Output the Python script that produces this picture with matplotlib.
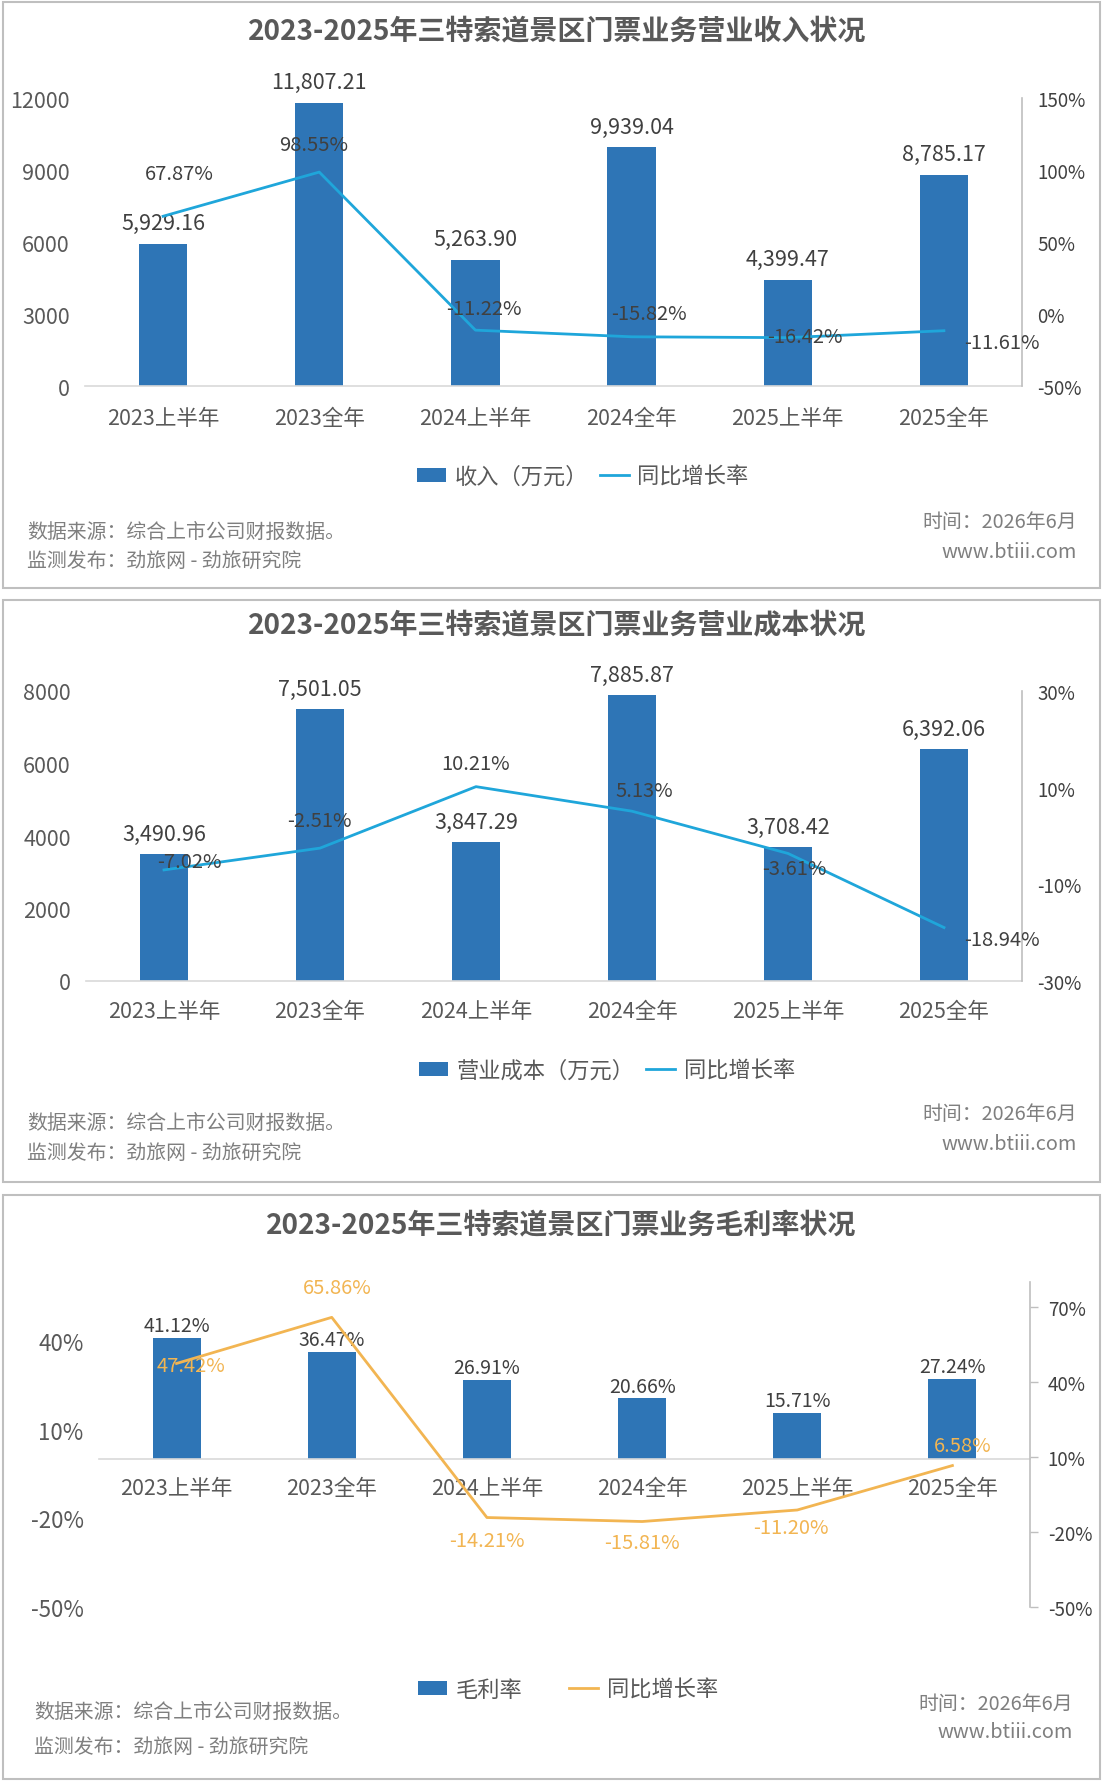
import matplotlib
matplotlib.use("Agg")
import matplotlib.pyplot as plt
from matplotlib.patches import Rectangle, Patch
from matplotlib.lines import Line2D
from matplotlib.ticker import FixedLocator, FuncFormatter

plt.rcParams['font.family'] = ['Noto Sans CJK SC', 'DejaVu Sans']
plt.rcParams['axes.unicode_minus'] = False

# ---------------- data ----------------
categories = ['2023上半年', '2023全年', '2024上半年', '2024全年', '2025上半年', '2025全年']
revenue = [5929.16, 11807.21, 5263.90, 9939.04, 4399.47, 8785.17]
revenue_yoy = [67.87, 98.55, -11.22, -15.82, -16.42, -11.61]
cost = [3490.96, 7501.05, 3847.29, 7885.87, 3708.42, 6392.06]
cost_yoy = [-7.02, -2.51, 10.21, 5.13, -3.61, -18.94]
margin = [41.12, 36.47, 26.91, 20.66, 15.71, 27.24]
margin_yoy = [47.42, 65.86, -14.21, -15.81, -11.20, 6.58]

rev_left_ticks = [0, 3000, 6000, 9000, 12000]
rev_right_ticks = [-50, 0, 50, 100, 150]
cost_left_ticks = [0, 2000, 4000, 6000, 8000]
cost_right_ticks = [-30, -10, 10, 30]
mar_left_ticks = [-50, -20, 10, 40]
mar_right_ticks = [-50, -20, 10, 40, 70]

titles = ['2023-2025年三特索道景区门票业务营业收入状况',
          '2023-2025年三特索道景区门票业务营业成本状况',
          '2023-2025年三特索道景区门票业务毛利率状况']
bar_names = ['收入（万元）', '营业成本（万元）', '毛利率']
line_name = '同比增长率'
source_txt = '数据来源：综合上市公司财报数据。'
publish_txt = '监测发布：劲旅网 - 劲旅研究院'
time_txt = '时间：2026年6月'
site_txt = 'www.btiii.com'

# ---------------- style ----------------
W, H = 1107, 1783
BAR = '#2E75B6'
BLUE_LINE = '#1FA6DA'
ORANGE = '#F2B552'
TXT = '#404040'
TICK = '#595959'
FOOT = '#7F7F7F'

fig = plt.figure(figsize=(W / 100, H / 100), dpi=100)


def fx(px):
    return px / W


def fy(py):
    return 1 - py / H


def add_axes(l, r, t, b):
    return fig.add_axes([fx(l), fy(b), (r - l) / W, (b - t) / H])


def frame(top, bottom):
    fig.patches.append(Rectangle((fx(3), fy(bottom)), fx(1100) - fx(3), fy(top) - fy(bottom),
                                 transform=fig.transFigure, fill=False,
                                 edgecolor='#BFBFBF', lw=1.5))


def style_axes(ax, ax2, right_tick_len=0, xpad=15):
    for s in ['top', 'left', 'right']:
        ax.spines[s].set_visible(False)
    ax.spines['bottom'].set_color('#D9D9D9')
    ax.spines['bottom'].set_linewidth(1.2)
    for s in ['top', 'left', 'bottom']:
        ax2.spines[s].set_visible(False)
    ax2.spines['right'].set_color('#BFBFBF')
    ax2.spines['right'].set_linewidth(1.2)
    ax.tick_params(axis='y', length=0, pad=11, labelsize=15.5, labelcolor=TICK)
    ax.tick_params(axis='x', length=0, pad=xpad, labelsize=15.5, labelcolor=TICK)
    ax2.tick_params(axis='y', length=right_tick_len, width=1, color='#BFBFBF',
                    pad=11 - right_tick_len * 0.7, labelsize=13.5, labelcolor=TXT)
    ax.set_xlim(-0.5, 5.5)
    ax.set_xticks(range(len(categories)))
    ax.set_xticklabels(categories)
    ax.set_zorder(1)
    ax2.set_zorder(2)
    ax.patch.set_visible(False)


def legend(cx, cy, bar_label, line_color, colspace):
    handles = [Patch(facecolor=BAR, edgecolor='none'),
               Line2D([], [], color=line_color, lw=2)]
    fig.legend(handles, [bar_label, line_name], loc='center',
               bbox_to_anchor=(fx(cx), fy(cy)), ncol=2, frameon=False,
               fontsize=16, labelcolor=TICK, handlelength=1.3, handleheight=0.6,
               handletextpad=0.4, columnspacing=colspace)


def footer(ly1, ly2, lx, ry1, ry2, rx):
    fs = 14.3
    fig.text(fx(lx), fy(ly1), source_txt, fontsize=fs, color=FOOT, ha='left', va='center')
    fig.text(fx(lx), fy(ly2), publish_txt, fontsize=fs, color=FOOT, ha='left', va='center')
    fig.text(fx(rx), fy(ry1), time_txt, fontsize=fs, color=FOOT, ha='right', va='center')
    fig.text(fx(rx), fy(ry2), site_txt, fontsize=fs, color=FOOT, ha='right', va='center')


x = list(range(len(categories)))
TITLE_FS = 20.2

# ================= panel 1 =================
frame(3, 589)
fig.text(fx(557), fy(32), titles[0], fontsize=TITLE_FS, fontweight='bold', color=TICK,
         ha='center', va='center')
ax = add_axes(85, 1022, 99, 387)
ax2 = ax.twinx()
ax.bar(x, revenue, width=0.31, color=BAR)
ax.set_ylim(0, 12000)
ax.yaxis.set_major_locator(FixedLocator(rev_left_ticks))
ax2.plot(x, revenue_yoy, color=BLUE_LINE, lw=2)
ax2.set_ylim(-50, 150)
ax2.yaxis.set_major_locator(FixedLocator(rev_right_ticks))
ax2.yaxis.set_major_formatter(FuncFormatter(lambda v, p: f'{v:.0f}%'))
style_axes(ax, ax2, xpad=15)
for xi, v in zip(x, revenue):
    ax.annotate(f'{v:,.2f}', (xi, v), xytext=(0, 21), textcoords='offset pixels',
                ha='center', va='center', fontsize=15.5, color=TXT)
off1 = [(16, -43), (-6, -28), (8, -22), (17, -23), (17, -1), (58, 12)]
for xi, v, o in zip(x, revenue_yoy, off1):
    ax2.annotate(f'{v:.2f}%', (xi, v), xytext=(o[0], -o[1]), textcoords='offset pixels',
                 ha='center', va='center', fontsize=14.5, color=TXT)
legend(583, 477, bar_names[0], BLUE_LINE, 0.5)
footer(532, 561, 27, 523, 552, 1077)

# ================= panel 2 =================
frame(601, 1183)
fig.text(fx(557), fy(626), titles[1], fontsize=TITLE_FS, fontweight='bold', color=TICK,
         ha='center', va='center')
ax = add_axes(86, 1022, 692, 982)
ax2 = ax.twinx()
ax.bar(x, cost, width=0.31, color=BAR)
ax.set_ylim(0, 8000)
ax.yaxis.set_major_locator(FixedLocator(cost_left_ticks))
ax2.plot(x, cost_yoy, color=BLUE_LINE, lw=2)
ax2.set_ylim(-30, 30)
ax2.yaxis.set_major_locator(FixedLocator(cost_right_ticks))
ax2.yaxis.set_major_formatter(FuncFormatter(lambda v, p: f'{v:.0f}%'))
style_axes(ax, ax2, xpad=14)
for xi, v in zip(x, cost):
    ax.annotate(f'{v:,.2f}', (xi, v), xytext=(0, 20), textcoords='offset pixels',
                ha='center', va='center', fontsize=15.5, color=TXT)
off2 = [(25, -8), (-1, -28), (0, -23), (12, -21), (6, 15), (58, 12)]
for xi, v, o in zip(x, cost_yoy, off2):
    ax2.annotate(f'{v:.2f}%', (xi, v), xytext=(o[0], -o[1]), textcoords='offset pixels',
                 ha='center', va='center', fontsize=14.5, color=TXT)
legend(607, 1071, bar_names[1], BLUE_LINE, 0.5)
footer(1123, 1153, 27, 1115, 1145, 1077)

# ================= panel 3 =================
frame(1196, 1780)
fig.text(fx(561), fy(1226), titles[2], fontsize=TITLE_FS, fontweight='bold', color=TICK,
         ha='center', va='center')
ax = add_axes(99, 1030, 1283, 1608)
ax2 = ax.twinx()
ax.bar(x, margin, width=0.31, color=BAR)
ax.set_ylim(-50, 60)
ax.yaxis.set_major_locator(FixedLocator(mar_left_ticks))
ax.yaxis.set_major_formatter(FuncFormatter(lambda v, p: f'{v:.0f}%'))
ax2.plot(x, margin_yoy, color=ORANGE, lw=2)
ax2.set_ylim(-50, 80)
ax2.yaxis.set_major_locator(FixedLocator(mar_right_ticks))
ax2.yaxis.set_major_formatter(FuncFormatter(lambda v, p: f'{v:.0f}%'))
style_axes(ax, ax2, right_tick_len=6, xpad=13)
ax.spines['bottom'].set_position(('data', 0))
ax.tick_params(axis='y', labelsize=16)
for xi, v in zip(x, margin):
    ax.annotate(f'{v:.2f}%', (xi, v), xytext=(0, 12), textcoords='offset pixels',
                ha='center', va='center', fontsize=14, color=TXT)
off3 = [(14, 2), (5, -30), (0, 23), (0, 21), (-6, 17), (10, -20)]
for xi, v, o in zip(x, margin_yoy, off3):
    ax2.annotate(f'{v:.2f}%', (xi, v), xytext=(o[0], -o[1]), textcoords='offset pixels',
                 ha='center', va='center', fontsize=14.5, color=ORANGE)
legend(568, 1690, bar_names[2], ORANGE, 2.1)
footer(1712, 1747, 34, 1705, 1733, 1073)

fig.savefig('out.png', dpi=100, facecolor='white')
